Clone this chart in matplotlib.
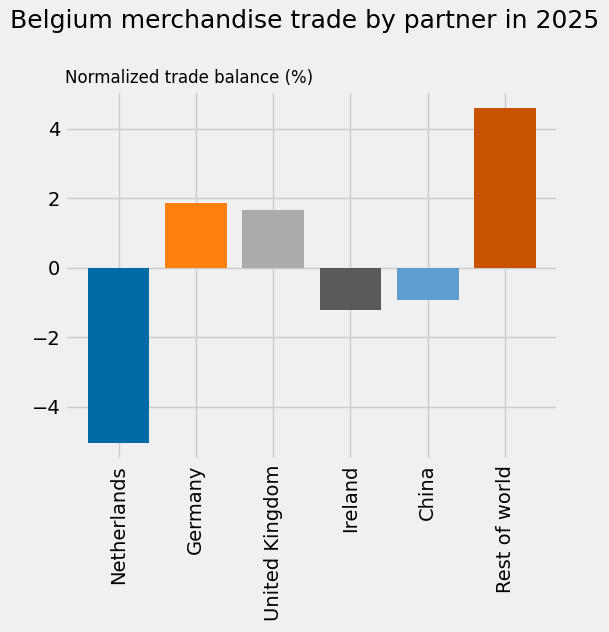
import matplotlib
matplotlib.use("Agg")
import matplotlib.pyplot as plt

plt.style.use("fivethirtyeight")

partners = ["Netherlands", "Germany", "United Kingdom", "Ireland", "China", "Rest of world"]
balance = [-5.05, 1.87, 1.67, -1.21, -0.93, 4.6]
colors = ["#006BA4", "#FF800E", "#ABABAB", "#595959", "#5F9ED1", "#C85200"]

fig = plt.figure(figsize=(6.09, 6.32), dpi=100)
ax = fig.add_axes([0.107, 0.272, 0.810, 0.584])
ax.bar(partners, balance, color=colors)
ax.tick_params(axis="x", rotation=90)
ax.set_title("Normalized trade balance (%)", loc="left", fontsize=12)
fig.suptitle("Belgium merchandise trade by partner in 2025", fontsize=18, y=0.985)

fig.savefig("out.png", dpi=100)
